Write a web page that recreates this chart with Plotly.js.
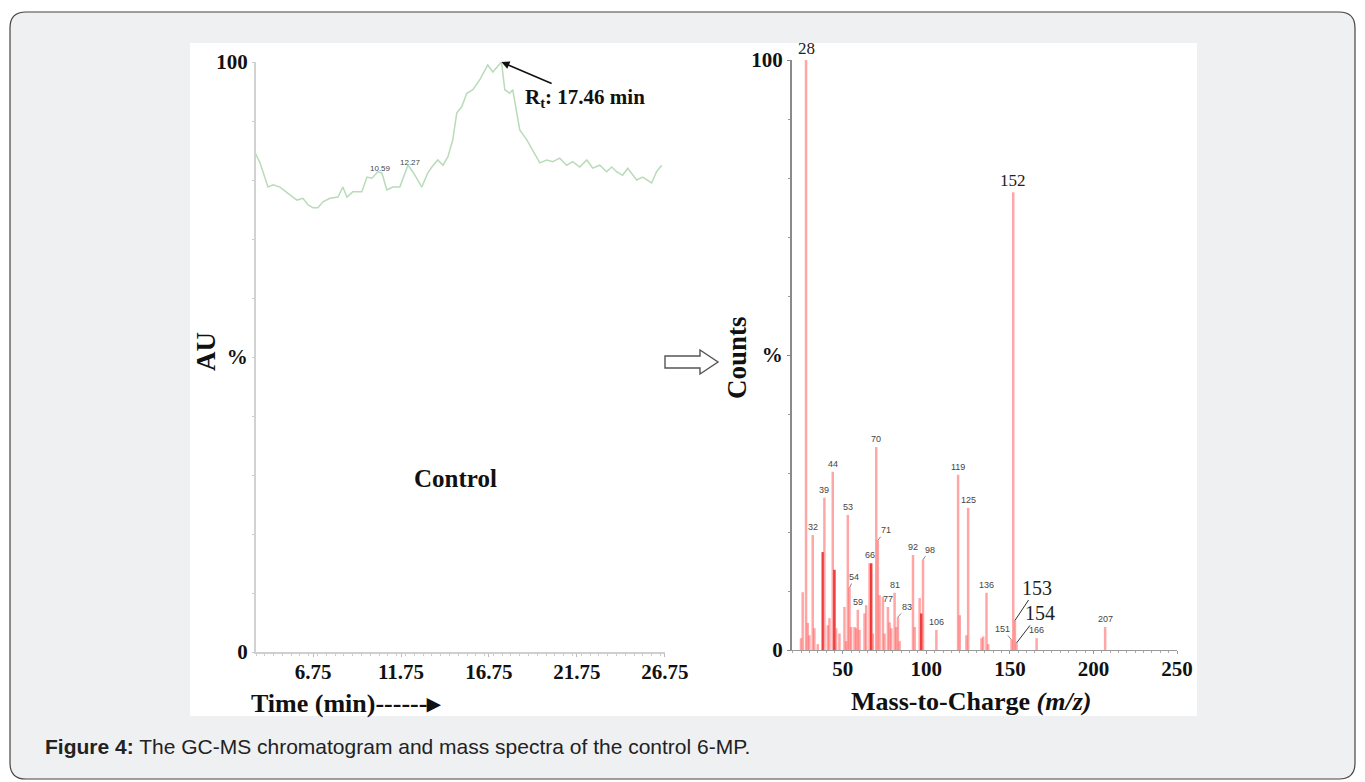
<!DOCTYPE html>
<html><head><meta charset="utf-8">
<script src="https://cdn.plot.ly/plotly-3.0.1.min.js"></script>
<style>html,body{margin:0;padding:0;background:#ffffff;}#chart{width:1365px;height:782px;}</style>
</head><body><div id="chart"></div>
<script>
// ---------- DATA ----------
const timeMin = [3.45,3.73,4.18,4.47,4.86,5.26,5.60,5.83,6.17,6.45,6.74,7.02,7.31,7.70,8.16,8.44,8.67,9.01,9.52,9.81,10.09,10.43,10.66,10.94,11.28,11.68,12.14,12.42,12.93,13.27,13.50,13.84,14.13,14.41,14.69,14.92,15.20,15.49,15.83,16.23,16.68,16.97,17.36,17.46,17.65,17.93,18.10,18.50,18.90,19.24,19.64,20.03,20.38,20.77,21.17,21.51,21.91,22.31,22.65,23.05,23.44,23.73,24.01,24.35,24.64,25.15,25.49,26.00,26.28,26.57];
const auPercent = [84.6,82.9,78.8,79.2,78.8,77.8,77.1,76.6,76.9,75.8,75.3,75.3,76.3,76.9,77.1,78.8,77.1,78.0,78.0,80.5,80.3,81.4,81.2,78.3,78.8,78.8,82.5,81.4,78.8,81.2,82.2,83.4,82.5,83.9,86.8,91.4,92.4,94.7,95.3,97.0,99.5,98.3,99.8,100,95.3,94.7,95.3,88.5,86.8,85.1,82.9,83.4,83.1,83.7,82.5,83.1,82.2,83.4,82.0,82.5,81.4,82.2,81.4,80.8,82.0,80.0,80.5,79.5,81.4,82.5];
const timeTicks = [6.75,11.75,16.75,21.75,26.75];
const timePeakLabels = [10.59, 12.27];
const timePeakLabelY = [81.9, 82.9];
const retentionTime = 17.46;

const mz = [25,26,28,29,30,32,33,35,38,39,41,42,44,45,46,48,51,52,53,54,55,57,58,59,60,63,64,66,67,68,70,71,72,74,75,77,78,79,81,82,83,84,92,93,96,97,98,106,119,120,124,125,133,134,136,137,151,152,153,154,166,207];
const counts = [2.0,9.8,100,4.6,2.5,19.5,3.7,1.0,16.6,25.8,4.2,5.4,30.2,13.6,3.7,2.8,7.3,1.5,22.9,10.5,3.9,3.9,3.7,6.8,3.4,6.2,7.6,14.7,14.7,2.8,34.4,18.6,9.3,9.0,2.8,7.3,4.7,3.7,9.7,3.9,5.6,1.5,16.1,3.9,8.8,6.2,15.3,3.4,29.7,5.9,2.5,24.1,2.0,2.3,9.7,1.0,1.7,77.6,5.0,1.2,2.0,3.9];
const darkPeaks = [38,45,67,97];
const smallLabelPeaks = [32,39,44,53,59,66,70,77,81,92,106,119,125,136,166,207];
const leaderLabelPeaks = [54,71,83,98,151];
const largeLabelPeaks = [28,152];
const largeLeaderPeaks = [153,154];
const yTickVals = [0,50,100];
const yTickText = ['0','%','100'];
const mzTicks = [50,100,150,200,250];

// ---------- HELPERS ----------
const W=1365,H=782;
const PX=x=>x/W, PY=y=>1-y/H;
const countOf = m => counts[mz.indexOf(m)];
const serif = 'Liberation Serif, Times New Roman, serif';
const sans = 'Liberation Sans, Arial, sans-serif';

const traces = [
  {type:'scatter', mode:'lines', x:timeMin, y:auPercent, xaxis:'x', yaxis:'y',
   line:{color:'#b8dbb8', width:1.5}, hoverinfo:'skip', showlegend:false},
  {type:'bar', x:mz, y:counts, xaxis:'x2', yaxis:'y2', width:1.5,
   marker:{color: mz.map(m=>darkPeaks.includes(m)?'rgba(235,30,30,0.85)':'rgba(255,95,95,0.55)'), line:{width:0}},
   hoverinfo:'skip', showlegend:false}
];

const ann = [];
timePeakLabels.forEach((t,i)=>ann.push({x:t, y:timePeakLabelY[i], xref:'x', yref:'y', text:t.toFixed(2), showarrow:false,
  xanchor:'center', yanchor:'middle', font:{family:sans, size:8, color:'#444'}}));
ann.push({x:retentionTime, y:100, xref:'x', yref:'y', text:'<b>R<sub>t</sub>: 17.46 min</b>', showarrow:true,
  ax:84, ay:36, arrowhead:2, arrowsize:1, arrowwidth:1.6, arrowcolor:'#111', font:{family:serif, size:21, color:'#111'}});
smallLabelPeaks.forEach(m=>ann.push({x:m, y:countOf(m), xref:'x2', yref:'y2', text:String(m), showarrow:false, xanchor:'center', yanchor:'bottom', yshift:1,
  font:{family:sans, size:9, color:'#444'}}));
const leaderOff = {54:[5,-11],71:[8,-10],83:[9,-10],98:[7,-10],151:[-9,-11]};
leaderLabelPeaks.forEach(m=>ann.push({x:m, y:countOf(m), xref:'x2', yref:'y2', text:String(m), showarrow:true, arrowhead:0, arrowwidth:0.8, arrowcolor:'#666',
  ax:leaderOff[m][0], ay:leaderOff[m][1], font:{family:sans, size:9, color:'#444'}}));
largeLabelPeaks.forEach(m=>ann.push({x:m, y:countOf(m), xref:'x2', yref:'y2', text:String(m), showarrow:false, xanchor:'center', yanchor:'bottom', yshift:0,
  font:{family:serif, size:17, color:'#222'}}));
const bigOff = {153:[22,-33],154:[23,-30]};
largeLeaderPeaks.forEach(m=>ann.push({x:m, y:countOf(m), xref:'x2', yref:'y2', text:String(m), showarrow:true, arrowhead:0, arrowwidth:1, arrowcolor:'#333',
  ax:bigOff[m][0], ay:bigOff[m][1], font:{family:serif, size:20, color:'#222'}}));
const paperText = (x,y,text,font,extra)=>Object.assign({x:PX(x), y:PY(y), xref:'paper', yref:'paper', text:text, showarrow:false,
  xanchor:'center', yanchor:'middle', font:font}, extra||{});
ann.push(paperText(455,478,'<b>Control</b>',{family:serif, size:25, color:'#111'}));
ann.push(paperText(206,352,'<b>AU</b>',{family:serif, size:27, color:'#111'},{textangle:-90}));
ann.push(paperText(737,358,'<b>Counts</b>',{family:serif, size:27, color:'#111'},{textangle:-90}));
ann.push(paperText(249,703,'<b>Time (min)------▸</b>',{family:serif, size:26, color:'#111'},{xanchor:'left'}));
ann.push(paperText(971,701,'<b>Mass-to-Charge <i>(m/z)</i></b>',{family:serif, size:26, color:'#111'}));
ann.push(paperText(43,746,'<b>Figure 4:</b> The GC-MS chromatogram and mass spectra of the control 6-MP.',{family:sans, size:21, color:'#222'},{xanchor:'left'}));

function rrect(x0,y0,x1,y1,r){
  const p=(x,y)=>PX(x)+','+PY(y);
  return 'M'+p(x0+r,y0)+' L'+p(x1-r,y0)+' Q'+p(x1,y0)+' '+p(x1,y0+r)+' L'+p(x1,y1-r)+' Q'+p(x1,y1)+' '+p(x1-r,y1)+
         ' L'+p(x0+r,y1)+' Q'+p(x0,y1)+' '+p(x0,y1-r)+' L'+p(x0,y0+r)+' Q'+p(x0,y0)+' '+p(x0+r,y0)+' Z';
}
const arrowPts = [[665,356],[700,356],[700,350],[718,362],[700,374],[700,368],[665,368]];
const arrowPath = 'M'+arrowPts.map(q=>PX(q[0])+','+PY(q[1])).join(' L')+' Z';
const shapes = [
  {type:'path', xref:'paper', yref:'paper', path:rrect(10,12,1355,779,16), fillcolor:'#eff0f2', line:{color:'#444', width:1.2}, layer:'below'},
  {type:'rect', xref:'paper', yref:'paper', x0:PX(190), x1:PX(1197), y0:PY(716), y1:PY(43), fillcolor:'#ffffff', line:{width:0}, layer:'below'},
  {type:'path', xref:'paper', yref:'paper', path:arrowPath, fillcolor:'#ffffff', line:{color:'#555', width:1.4}, layer:'above'}
];

const tickFont = {family:serif, size:21, color:'#111', weight:'bold'};
const layout = {
  width:W, height:H, margin:{l:0,r:0,t:0,b:0}, autosize:false,
  paper_bgcolor:'#ffffff', plot_bgcolor:'rgba(0,0,0,0)', showlegend:false,
  xaxis:{domain:[PX(256),PX(665)], range:[3.5,26.76], tickmode:'array', tickvals:timeTicks, ticktext:timeTicks.map(v=>v.toFixed(2)),
    showline:true, linecolor:'#cfcfcf', linewidth:1.5, ticks:'outside', ticklen:3, tickcolor:'#bbb', tickfont:tickFont, ticklabelstandoff:-3,
    minor:{tickmode:'linear', tick0:3.5, dtick:0.5, ticks:'outside', ticklen:2, tickcolor:'#ccc'},
    showgrid:false, zeroline:false, fixedrange:true, anchor:'y'},
  yaxis:{domain:[PY(652),PY(62)], range:[0,100], tickmode:'array', tickvals:yTickVals, ticktext:yTickText,
    showline:true, linecolor:'#d2d2d2', linewidth:2, ticks:'outside', ticklen:2, tickcolor:'#ccc', tickfont:tickFont,
    minor:{tickmode:'linear', tick0:0, dtick:10, ticks:'outside', ticklen:2, tickcolor:'#ccc'},
    showgrid:false, zeroline:false, fixedrange:true, anchor:'x'},
  xaxis2:{domain:[PX(792),PX(1177)], range:[19.6,250], tickmode:'array', tickvals:mzTicks, ticktext:mzTicks.map(String),
    showline:true, linecolor:'#999', linewidth:1.2, ticks:'outside', ticklen:3, tickcolor:'#999', tickfont:tickFont, ticklabelstandoff:-3,
    minor:{tickmode:'linear', tick0:0, dtick:5, ticks:'outside', ticklen:2, tickcolor:'#aaa'},
    showgrid:false, zeroline:false, fixedrange:true, anchor:'y2'},
  yaxis2:{domain:[PY(650),PY(60)], range:[0,100], tickmode:'array', tickvals:yTickVals, ticktext:yTickText,
    showline:true, linecolor:'#8a8a8a', linewidth:2, ticks:'outside', ticklen:3, tickcolor:'#888', tickfont:tickFont,
    minor:{tickmode:'linear', tick0:0, dtick:10, ticks:'outside', ticklen:2, tickcolor:'#999'},
    showgrid:false, zeroline:false, fixedrange:true, anchor:'x2'},
  annotations:ann, shapes:shapes
};
Plotly.newPlot('chart', traces, layout, {staticPlot:true, displayModeBar:false});
</script></body></html>
